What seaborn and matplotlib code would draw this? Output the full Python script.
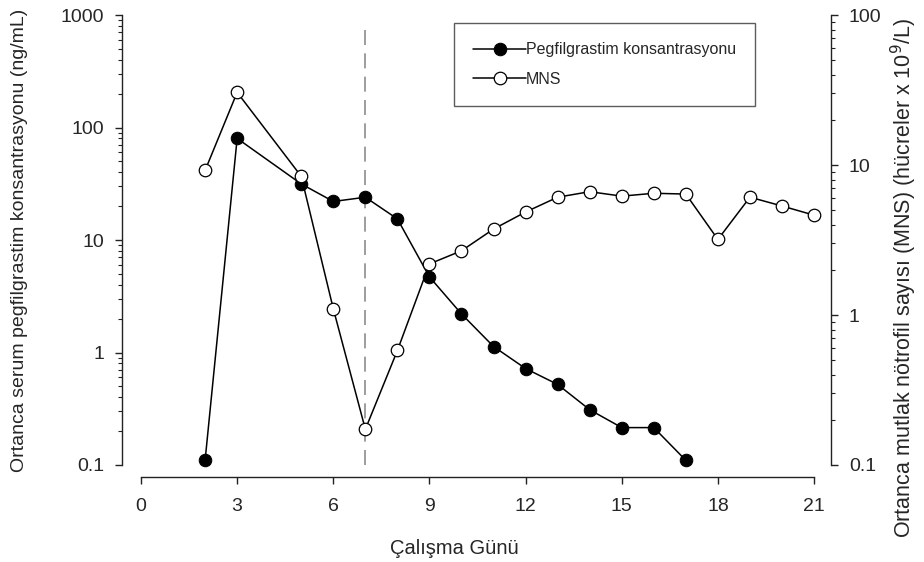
# ==============================
# BIBLIOTECAS
# ==============================

import numpy as np
import pandas as pd
import matplotlib
matplotlib.use("Agg")
import matplotlib.pyplot as plt
import seaborn as sns
from matplotlib.ticker import LogLocator, NullFormatter


# ==============================
# DADOS
# ==============================

# Pegfilgrastim (eixo esquerdo, ng/mL)
peg_gun = [2, 3, 5, 6, 7, 8, 9, 10, 11, 12, 13, 14, 15, 16, 17]
peg_kons = [0.11, 80, 31.5, 22, 24, 15.4, 4.7, 2.2, 1.13, 0.72, 0.52, 0.31, 0.215, 0.215, 0.11]

# MNS (eixo direito, x10^9/L)
mns_gun = [2, 3, 5, 6, 7, 8, 9, 10, 11, 12, 13, 14, 15, 16, 17, 18, 19, 20, 21]
mns_deger = [9.2, 30.5, 8.4, 1.1, 0.173, 0.58, 2.19, 2.68, 3.74, 4.86, 6.1, 6.64,
             6.2, 6.48, 6.4, 3.19, 6.1, 5.33, 4.63]

x_ticks = [0, 3, 6, 9, 12, 15, 18, 21]
sol_ticks = [0.1, 1, 10, 100, 1000]
sol_labels = ["0.1", "1", "10", "100", "1000"]
sag_ticks = [0.1, 1, 10, 100]
sag_labels = ["0.1", "1", "10", "100"]
kesik_gun = 7

df_peg = pd.DataFrame({"gun": peg_gun, "deger": peg_kons})
df_mns = pd.DataFrame({"gun": mns_gun, "deger": mns_deger})


# ==============================
# ESTILO
# ==============================

sns.set_style("ticks")
plt.rcParams["font.family"] = ["Liberation Sans", "DejaVu Sans"]
plt.rcParams["font.size"] = 14

fig = plt.figure(figsize=(9.24, 5.62), dpi=100)
ax = fig.add_axes([0.1526, 0.1726, 0.7284, 0.8007])
ax2 = ax.twinx()


# ==============================
# GRÁFICO
# ==============================

sns.lineplot(data=df_peg, x="gun", y="deger", ax=ax, color="black", lw=1.1,
             marker="o", markersize=9, markerfacecolor="black",
             markeredgecolor="black", label="Pegfilgrastim konsantrasyonu",
             legend=False, zorder=3, clip_on=False)
sns.lineplot(data=df_mns, x="gun", y="deger", ax=ax2, color="black", lw=1.1,
             marker="o", markersize=9, markerfacecolor="white",
             markeredgecolor="black", markeredgewidth=0.9, label="MNS",
             legend=False, zorder=3, clip_on=False)

ax.axvline(kesik_gun, ymin=0, ymax=0.985, color="#8c8c8c", lw=1.2,
           dashes=(9, 5), zorder=1)

ax.set_yscale("log")
ax2.set_yscale("log")
ax.set_xlim(0, 21)
ax.set_ylim(0.1, 1000)
ax2.set_ylim(0.1, 100)

ax.set_xticks(x_ticks)
ax.set_yticks(sol_ticks)
ax.set_yticklabels(sol_labels)
ax.yaxis.set_minor_locator(LogLocator(base=10, subs=np.arange(2, 10)))
ax.yaxis.set_minor_formatter(NullFormatter())
ax2.set_yticks(sag_ticks)
ax2.set_yticklabels(sag_labels)
ax2.yaxis.set_minor_locator(LogLocator(base=10, subs=np.arange(2, 10)))
ax2.yaxis.set_minor_formatter(NullFormatter())

# eixos deslocados (estilo SigmaPlot)
for a in (ax, ax2):
    a.spines["top"].set_visible(False)
ax.spines["right"].set_visible(False)
ax2.spines["left"].set_visible(False)
ax2.spines["bottom"].set_visible(False)
ax.spines["left"].set_position(("outward", 13.5))
ax.spines["bottom"].set_position(("outward", 8.5))
ax2.spines["right"].set_position(("outward", 12))
for sp in [ax.spines["left"], ax.spines["bottom"], ax2.spines["right"]]:
    sp.set_color("#222222")
    sp.set_linewidth(1.0)

ax.tick_params(axis="both", which="major", length=5, width=1, color="#222222",
               labelsize=14, pad=8)
ax.tick_params(axis="x", which="major", pad=10)
ax.tick_params(axis="y", which="minor", length=3, width=0.8, color="#222222")
ax2.tick_params(axis="y", which="major", length=5, width=1, color="#222222",
                labelsize=14, pad=8)
ax2.tick_params(axis="y", which="minor", length=3, width=0.8, color="#222222")

ax.set_xlabel("Çalışma Günü", fontsize=14.5)
ax.xaxis.set_label_coords(0.465, -0.165)
ax.set_ylabel("Ortanca serum pegfilgrastim konsantrasyonu (ng/mL)", fontsize=14)
ax.yaxis.set_label_coords(-0.168, 0.5)
ax2.set_ylabel("Ortanca mutlak nötrofil sayısı (MNS) (hücreler x 10$^9$/L)",
               fontsize=15.5)
ax2.yaxis.set_label_coords(1.111, 0.415)

# legenda
h1, l1 = ax.get_legend_handles_labels()
h2, l2 = ax2.get_legend_handles_labels()
leg = ax2.legend(h1 + h2, l1 + l2, loc="upper left",
                 bbox_to_anchor=(454 / 924, 1 - 23 / 562),
                 bbox_transform=fig.transFigure, fontsize=11.5,
                 frameon=True, fancybox=False, handlelength=3.3,
                 handletextpad=0.0, labelspacing=0.9, borderpad=1.2,
                 borderaxespad=0)
leg.get_frame().set_edgecolor("#333333")
leg.get_frame().set_linewidth(1.0)

fig.savefig("out.png", dpi=100)
